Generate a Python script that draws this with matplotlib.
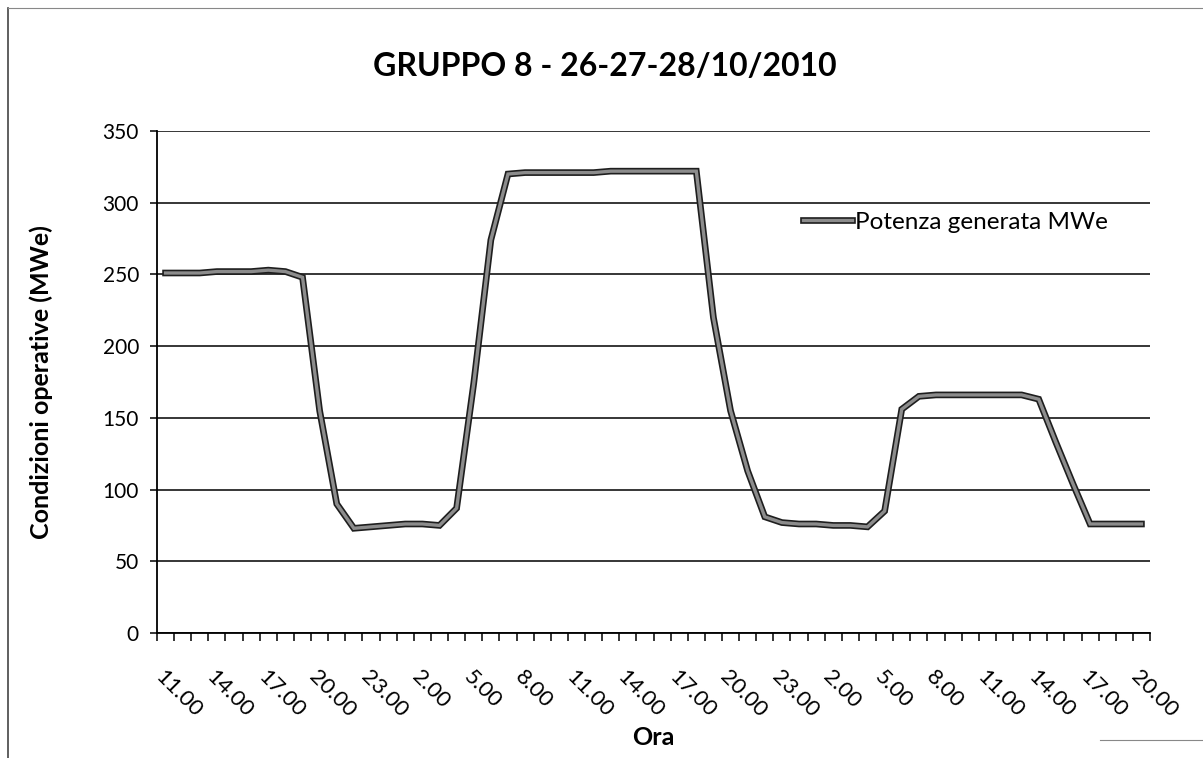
import matplotlib
matplotlib.use("Agg")
import matplotlib.pyplot as plt
import matplotlib.patheffects as pe
from matplotlib.lines import Line2D

# ---- data ----
start_hour = 11
n_points = 58
hours = [f"{(start_hour + i) % 24}.00" for i in range(n_points)]
potenza = [251, 251, 251, 252, 252, 252, 253, 252, 248, 155,
           90, 73, 74, 75, 76, 76, 75, 87, 174, 274,
           320, 321, 321, 321, 321, 321, 322, 322, 322, 322,
           322, 322, 220, 155, 113, 81, 77, 76, 76, 75,
           75, 74, 85, 156, 165, 166, 166, 166, 166, 166,
           166, 163, 133, 104, 76, 76, 76, 76]
yticks = [0, 50, 100, 150, 200, 250, 300, 350]
title = "GRUPPO 8 - 26-27-28/10/2010"
ylabel = "Condizioni operative (MWe)"
xlabel = "Ora"
series_name = "Potenza generata MWe"

plt.rcParams['font.family'] = ['Lato', 'DejaVu Sans']

W, H = 1203, 758
fig = plt.figure(figsize=(W / 100, H / 100), dpi=100)
ax = fig.add_axes([157 / W, 1 - 633 / H, (1150 - 157) / W, (633 - 131) / H])

x = list(range(n_points))
line_fx = [pe.Stroke(linewidth=4.8, foreground='#1e1e1e'), pe.Normal()]
ax.plot(x, potenza, color='#8c8c8c', lw=2.4, solid_joinstyle='miter',
        path_effects=line_fx, label=series_name, zorder=3)

ax.set_xlim(-0.5, n_points - 0.5)
ax.set_ylim(0, 350)
ax.set_yticks(yticks)
ax.set_yticklabels([str(v) for v in yticks])
ax.yaxis.grid(True, color='black', lw=1.1)
ax.set_axisbelow(True)

ax.set_xticks(list(range(0, n_points, 3)))
ax.set_xticklabels(hours[::3], rotation=-45, ha='left', va='top',
                   rotation_mode='anchor')
ax.set_xticks([i - 0.5 for i in range(n_points + 1)], minor=True)
ax.tick_params(axis='x', which='major', length=0, pad=24, labelsize=16)
ax.tick_params(axis='x', which='minor', length=6, width=1.1, direction='out')
ax.tick_params(axis='y', length=5, width=1.1, pad=8, labelsize=15)

for s in ['top', 'right']:
    ax.spines[s].set_visible(False)
for s in ['left', 'bottom']:
    ax.spines[s].set_linewidth(1.3)
    ax.spines[s].set_color('black')

ax.set_ylabel(ylabel, fontsize=18, fontweight='bold', labelpad=36)
ax.set_xlabel(xlabel, fontsize=18, fontweight='bold', labelpad=4)
fig.text(0.503, 1 - 66 / H, title, fontsize=23, fontweight='bold',
         ha='center', va='center')

leg = ax.legend(loc='center left', bbox_to_anchor=((803 - 157) / 993, (633 - 222) / 502),
                frameon=False, fontsize=17.5, borderpad=0, borderaxespad=0,
                handlelength=2.0, handletextpad=0.15)

# outer chart frame (scanned border)
fig.add_artist(Line2D([8 / W, 8 / W], [0, 1 - 8 / H], color='#444', lw=1.2))
fig.add_artist(Line2D([8 / W, 1], [1 - 8 / H, 1 - 8 / H], color='#888', lw=0.8))
fig.add_artist(Line2D([1100 / W, 1], [1 - 740 / H, 1 - 740 / H], color='#888', lw=0.8))

fig.savefig('out.png', dpi=100)
